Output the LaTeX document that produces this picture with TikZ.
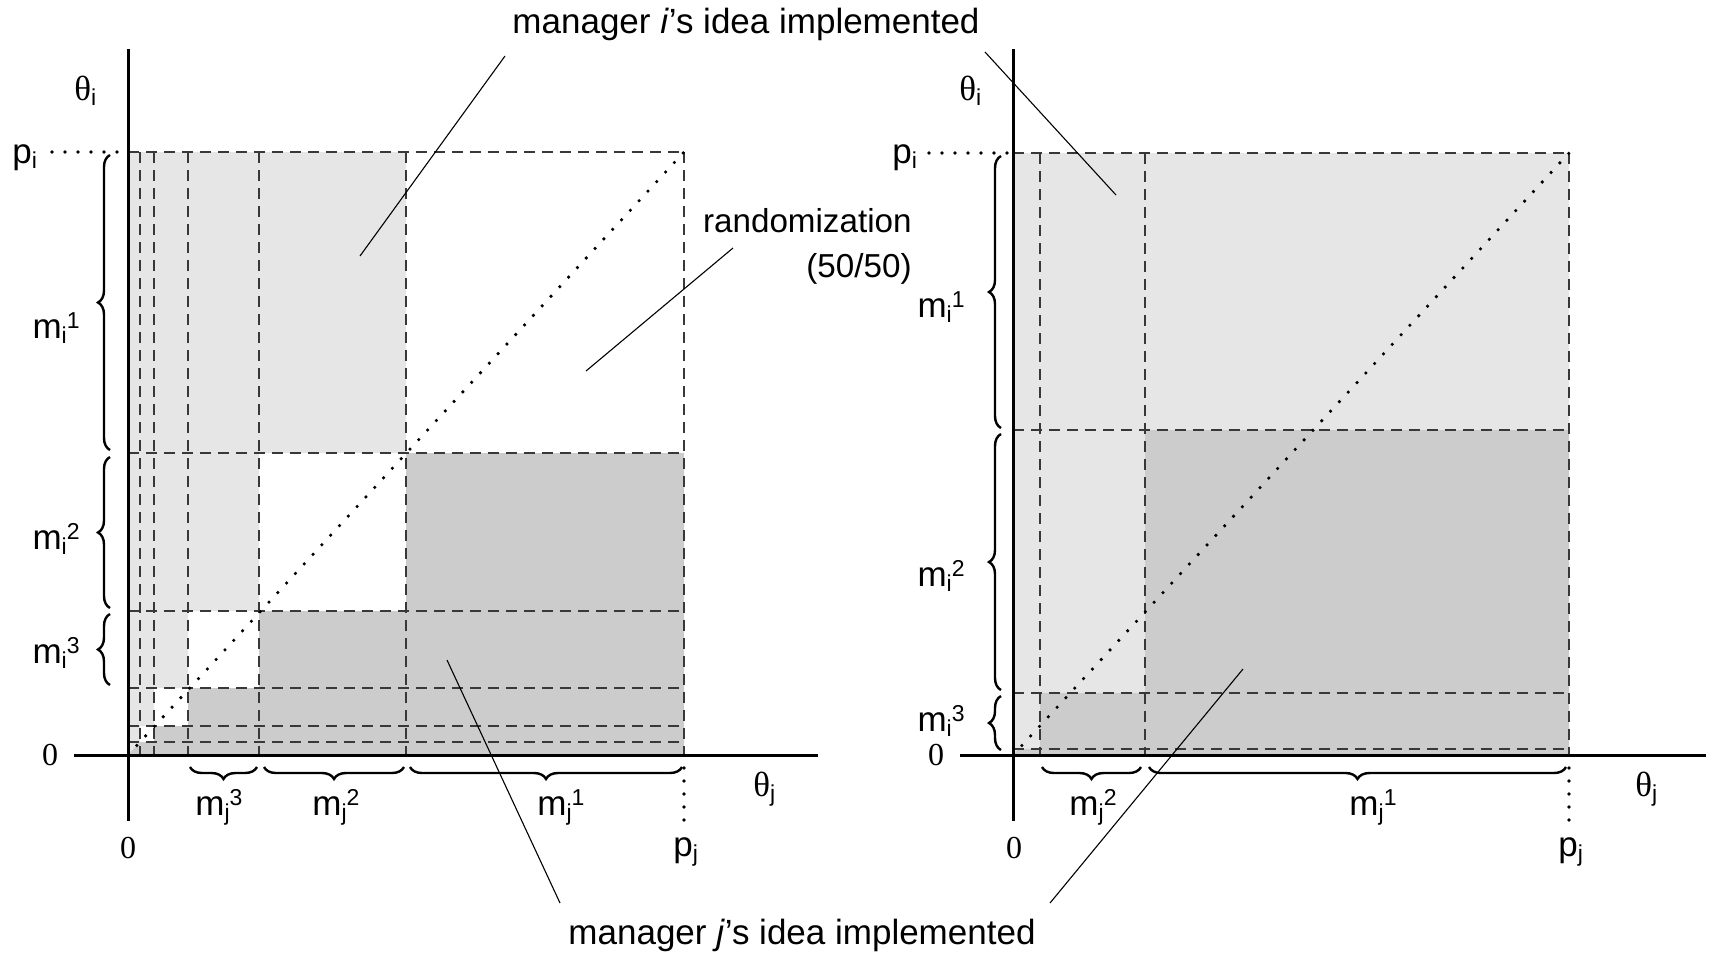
\documentclass[tikz,border=0pt]{standalone}
\usepackage{fontspec}
\setmainfont{Liberation Sans}
\newfontfamily\serifface{Liberation Serif}
\usetikzlibrary{decorations.pathreplacing}
\definecolor{lightfill}{gray}{0.902}
\definecolor{darkfill}{gray}{0.8}
\definecolor{gridline}{gray}{0.22}
\newcommand{\subtxt}[1]{\raisebox{-2.5pt}{\fontsize{11.5}{11.5}\selectfont #1}}
\newcommand{\suptxt}[1]{\raisebox{5pt}{\fontsize{11.5}{11.5}\selectfont #1}}
\newcommand{\thetalab}[1]{{\serifface θ}\subtxt{#1}}
\tikzset{
  axisline/.style={line width=1.5pt},
  gridd/.style={gridline, line width=0.8pt, dash pattern=on 5.5pt off 3.5pt},
  dotline/.style={line width=1.8pt, line cap=round, dash pattern=on 0pt off 6.5pt},
  leader/.style={line width=0.55pt},
  curly/.style={decorate, decoration={brace, amplitude=6pt}, line width=1.2pt},
  lab/.style={font=\fontsize{17.5}{20}\selectfont, inner sep=0pt},
  randlab/.style={font=\fontsize{16.6}{20}\selectfont, inner sep=0pt},
  biglab/.style={font=\fontsize{17.5}{21}\selectfont, inner sep=0pt},
  zero/.style={font=\fontsize{16}{19}\selectfont\serifface, inner sep=0pt},
}
\begin{document}
\begin{tikzpicture}[x=0.5pt,y=-0.5pt]
\useasboundingbox (0,0) rectangle (1711,954);

% ---------- left panel: regions ----------
\fill[lightfill] (128,152) -- (406,152) -- (406,453) -- (259,453) -- (259,611) -- (188,611)
  -- (188,688) -- (154,688) -- (154,726) -- (140,726) -- (140,742) -- (128,755) -- cycle;
\fill[darkfill] (684,755) -- (684,453) -- (406,453) -- (406,611) -- (259,611) -- (259,688)
  -- (188,688) -- (188,726) -- (154,726) -- (154,742) -- (140,742) -- (128,755) -- cycle;
% partition lines
\foreach \xx in {140,154,188,259,406,684} \draw[gridd] (\xx,152) -- (\xx,755);
\foreach \yy in {742,726,688,611,453,152} \draw[gridd] (128,\yy) -- (684,\yy);
% 45-degree line
\draw[dotline] (128,755) -- (684,152);

% ---------- right panel: regions ----------
\fill[lightfill] (1013,153) -- (1569,153) -- (1569,430) -- (1145,430) -- (1145,693)
  -- (1040,693) -- (1040,749) -- (1018.5,749) -- (1013,755) -- cycle;
\fill[darkfill] (1569,755) -- (1569,430) -- (1145,430) -- (1145,693) -- (1040,693)
  -- (1040,749) -- (1018.5,749) -- (1013,755) -- cycle;
\foreach \xx in {1040,1145,1569} \draw[gridd] (\xx,153) -- (\xx,755);
\foreach \yy in {749,693,430,153} \draw[gridd] (1013,\yy) -- (1569,\yy);
\draw[dotline] (1013,755) -- (1569,153);

% ---------- axes ----------
\draw[axisline] (128,49) -- (128,821);
\draw[axisline] (74,755) -- (818,755);
\draw[axisline] (1013,49) -- (1013,821);
\draw[axisline] (960,755) -- (1706,755);

% price markers
\draw[dotline] (52,152) -- (124,152);
\draw[dotline] (684,768) -- (684,822);
\draw[dotline] (929,153) -- (1007,153);
\draw[dotline] (1569,768) -- (1569,822);

% ---------- braces ----------
\draw[curly] (110,450) -- (110,155);
\draw[curly] (110,608) -- (110,457);
\draw[curly] (110,685) -- (110,614);
\draw[curly] (257,767) -- (190,767);
\draw[curly] (404,767) -- (264,767);
\draw[curly] (682,767) -- (410,767);

\draw[curly] (1001,428) -- (1001,156);
\draw[curly] (1001,690) -- (1001,434);
\draw[curly] (1001,750) -- (1001,696);
\draw[curly] (1141,767) -- (1042,767);
\draw[curly] (1566,767) -- (1149,767);

% ---------- axis labels ----------
\node[lab, anchor=base west] (thiL) at (74,100) {\thetalab{i}};
\node[lab, anchor=base west] (piL) at (12,163) {p\subtxt{i}};
\node[zero] (zyL) at (50,755) {0};
\node[zero] (zxL) at (128,848) {0};
\node[lab, anchor=base west] (thjL) at (753,796) {\thetalab{j}};
\node[lab, anchor=base west] (pjL) at (673,856) {p\subtxt{j}};

\node[lab, anchor=base west] (thiR) at (959,100) {\thetalab{i}};
\node[lab, anchor=base west] (piR) at (892,163) {p\subtxt{i}};
\node[zero] (zyR) at (936,755) {0};
\node[zero] (zxR) at (1014,848) {0};
\node[lab, anchor=base west] (thjR) at (1635,796) {\thetalab{j}};
\node[lab, anchor=base west] (pjR) at (1558,856) {p\subtxt{j}};

% ---------- message labels ----------
\node[lab, anchor=base east] (mi1L) at (80,338) {m\subtxt{i}\suptxt{1}};
\node[lab, anchor=base east] (mi2L) at (80,549) {m\subtxt{i}\suptxt{2}};
\node[lab, anchor=base east] (mi3L) at (80,663) {m\subtxt{i}\suptxt{3}};
\node[lab, anchor=base] (mj3L) at (219,815) {m\subtxt{j}\suptxt{3}};
\node[lab, anchor=base] (mj2L) at (336,815) {m\subtxt{j}\suptxt{2}};
\node[lab, anchor=base] (mj1L) at (561,815) {m\subtxt{j}\suptxt{1}};

\node[lab, anchor=base east] (mi1R) at (965,317) {m\subtxt{i}\suptxt{1}};
\node[lab, anchor=base east] (mi2R) at (965,586) {m\subtxt{i}\suptxt{2}};
\node[lab, anchor=base east] (mi3R) at (965,731) {m\subtxt{i}\suptxt{3}};
\node[lab, anchor=base] (mj2R) at (1093,815) {m\subtxt{j}\suptxt{2}};
\node[lab, anchor=base] (mj1R) at (1373,815) {m\subtxt{j}\suptxt{1}};

% ---------- region captions ----------
\node[biglab, anchor=base] (capi) at (746,33) {manager \textit{i}'s idea implemented};
\node[biglab, anchor=base] (capj) at (802,944) {manager \textit{j}'s idea implemented};
\node[randlab, anchor=base east] (rand1) at (912,232) {randomization};
\node[randlab, anchor=base east] (rand2) at (912,277) {(50/50)};

\coordinate (ci1) at (505,56);
\coordinate (ti1) at (360,256);
\coordinate (ci2) at (985,52);
\coordinate (ti2) at (1116,195);
\coordinate (cr) at (733,248);
\coordinate (tr) at (586,371);
\coordinate (tj1) at (447,660);
\coordinate (cj1) at (560,903);
\coordinate (tj2) at (1243,669);
\coordinate (cj2) at (1050,903);

\draw[leader] (ci1) -- (ti1);
\draw[leader] (ci2) -- (ti2);
\draw[leader] (cr) -- (tr);
\draw[leader] (cj1) -- (tj1);
\draw[leader] (cj2) -- (tj2);
\end{tikzpicture}
\end{document}
